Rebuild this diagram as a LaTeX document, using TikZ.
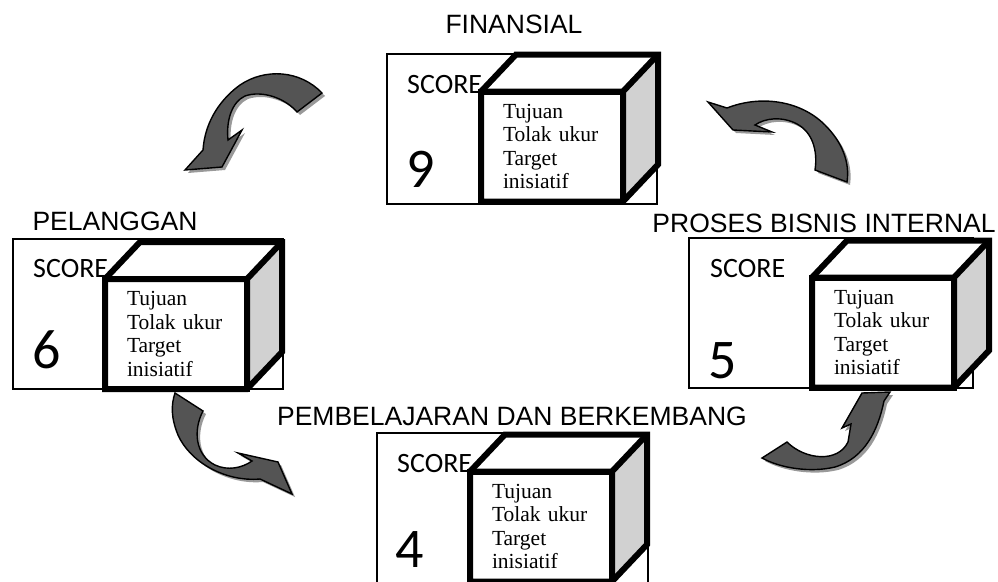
\documentclass[tikz,border=0pt]{standalone}
\usepackage{fontspec}
\setmainfont{Liberation Serif}
\newfontfamily\arialfont{Liberation Sans}
\newfontfamily\calibrifont{Carlito}
\usetikzlibrary{positioning}
\usetikzlibrary{shadows}

\begin{document}
\begin{tikzpicture}[x=1pt, y=-1pt,
    perspective/.style={draw, line width=1.3pt, minimum width=270pt, minimum height=150pt, inner sep=0pt, outer sep=0pt, anchor=north west},
    title/.style={font=\arialfont\fontsize{26.5}{30}\selectfont, anchor=base, inner sep=0pt},
    scoretxt/.style={font=\calibrifont\fontsize{28}{32}\selectfont, anchor=base west, inner sep=0pt},
    scorenum/.style={font=\calibrifont\fontsize{56}{60}\selectfont, anchor=base west, inner sep=0pt},
    cubefront/.style={draw, line width=6pt, fill=white, minimum width=142pt, minimum height=110pt, text width=98pt, inner xsep=22pt, inner ysep=0pt, outer sep=0pt, anchor=north west, align=left, font=\fontsize{21.5}{23.6}\selectfont},
    cubeface/.style={draw, line width=6pt},
    bigarrow/.style={draw=black, line width=1.4pt, fill=black!67, drop shadow={shadow xshift=3pt, shadow yshift=-3pt, fill=black!40, opacity=1}}
  ]
    \useasboundingbox (0,0) rectangle (998,581);
    \clip (0,0) rectangle (998,581);

    % Titles
    \node[title] (finlbl) at (514,33) {FINANSIAL};
    \node[title] (pellbl) at (115,230) {PELANGGAN};
    \node[title] (prolbl) at (824,232) {PROSES BISNIS INTERNAL};
    \node[title] (pemlbl) at (512,425) {PEMBELAJARAN DAN BERKEMBANG};

    % Score panels
    \node[perspective] (fin) at (387,54) {};
    \node[perspective] (pel) at (13,239) {};
    \node[perspective, minimum width=284pt] (pro) at (689,238) {};
    \node[perspective, minimum width=271pt] (pem) at (377,433) {};

    \node[scoretxt] (finscore) at ([shift={(20,39)}]fin.north west) {SCORE};
    \node[scoretxt] (pelscore) at ([shift={(20,38)}]pel.north west) {SCORE};
    \node[scoretxt] (proscore) at ([shift={(21,39)}]pro.north west) {SCORE};
    \node[scoretxt] (pemscore) at ([shift={(20,39)}]pem.north west) {SCORE};

    \node[scorenum] (finnum) at ([shift={(19,133)}]fin.north west) {9};
    \node[scorenum] (pelnum) at ([shift={(19,129)}]pel.north west) {6};
    \node[scorenum] (pronum) at ([shift={(19,140)}]pro.north west) {5};
    \node[scorenum] (pemnum) at ([shift={(18,134)}]pem.north west) {4};

    % Cycle arrows
    \draw[bigarrow] (322,93) .. controls (300,70) and (265,68) .. (240,85) .. controls (222,98) and (205,120) .. (203,150) -- (194,160) -- (185,170) -- (222,167) -- (242,130) -- (228,140) .. controls (226,120) and (232,102) .. (245,96) .. controls (262,90) and (285,98) .. (297,112) -- cycle;
    \draw[bigarrow] (708,102) -- (727,108) .. controls (760,95) and (800,100) .. (825,125) .. controls (842,142) and (850,162) .. (847,182) -- (815,170) .. controls (818,150) and (812,132) .. (797,124) .. controls (782,116) and (765,118) .. (755,125) -- (772,132) -- (733,130) -- cycle;
    \draw[bigarrow] (175,393) -- (203,411) .. controls (193,430) and (195,455) .. (215,465) .. controls (228,471) and (242,468) .. (252,461) -- (238,453) -- (278,462) -- (292,494) -- (260,479) .. controls (225,482) and (190,462) .. (178,435) .. controls (171,418) and (171,405) .. (175,393) -- cycle;
    \draw[bigarrow] (762,458) -- (787,442) .. controls (805,460) and (838,463) .. (848,442) -- (851,424) -- (842,428) -- (862,393) -- (890,392) -- (884,401) .. controls (878,430) and (865,458) .. (835,467) .. controls (810,473) and (780,468) .. (762,458) -- cycle;

    % Cubes
    \node[cubefront] (finbox) at (481,91.5) {Tujuan\\Tolak ukur\\Target\\inisiatif};
    \node[cubefront] (pelbox) at (105,279) {Tujuan\\Tolak ukur\\Target\\inisiatif};
    \node[cubefront] (probox) at (812,277.5) {Tujuan\\Tolak ukur\\Target\\inisiatif};
    \node[cubefront] (pembox) at (470,471.5) {Tujuan\\Tolak ukur\\Target\\inisiatif};

    \foreach \b in {fin,pel,pro,pem} {
      \fill[white] (\b box.north west) -- ++(35,-37) -- ([shift={(35,-37)}]\b box.north east) -- (\b box.north east) -- cycle;
      \fill[black!18] (\b box.north east) -- ([shift={(35,-37)}]\b box.north east) -- ([shift={(35,-37)}]\b box.south east) -- (\b box.south east) -- cycle;
      \draw[cubeface] (\b box.south west) -- (\b box.north west) -- ++(35,-37) -- ([shift={(35,-37)}]\b box.north east) -- ([shift={(35,-37)}]\b box.south east) -- (\b box.south east) -- cycle;
      \draw[cubeface] (\b box.north west) -- (\b box.north east) -- ++(35,-37) (\b box.north east) -- (\b box.south east);
    }

\end{tikzpicture}
\end{document}
